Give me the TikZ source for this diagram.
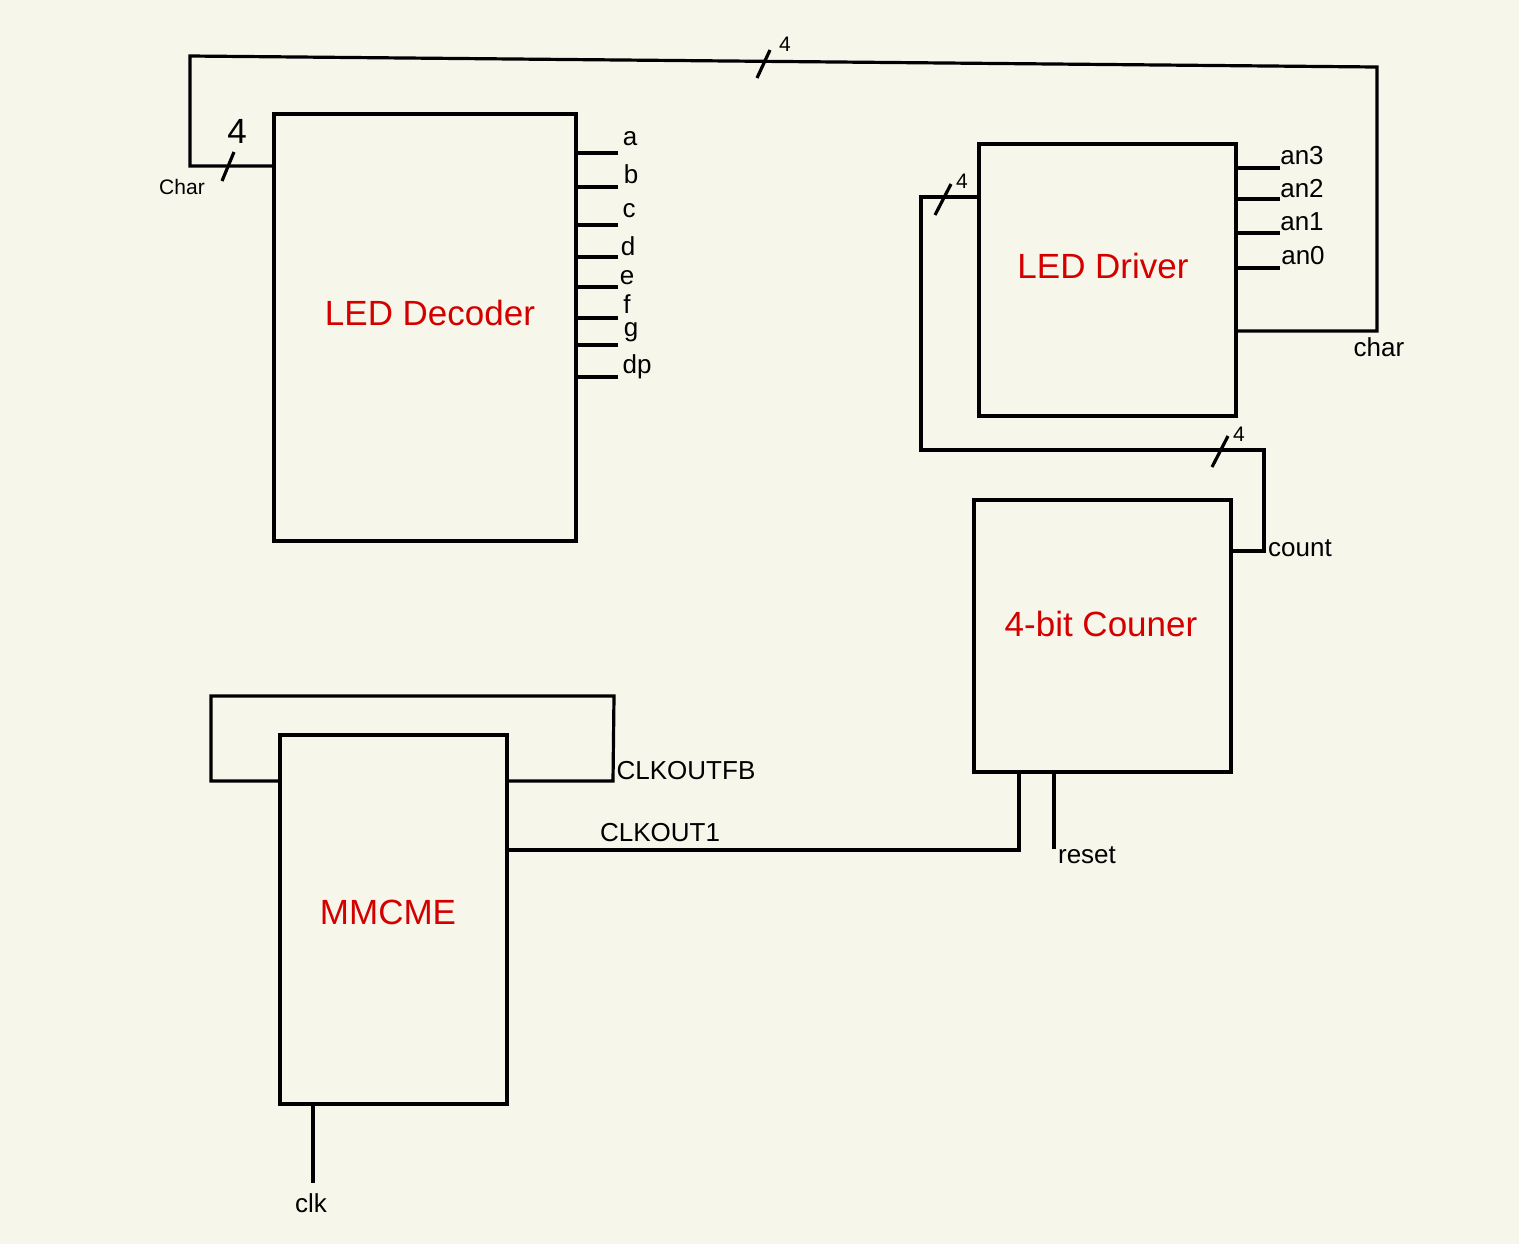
\documentclass[tikz,border=0pt]{standalone}
\usepackage{fontspec}
\setmainfont{Liberation Sans}
\usetikzlibrary{fit}
\definecolor{bg}{RGB}{247,246,234}
\definecolor{tred}{RGB}{212,0,0}
\begin{document}
\begin{tikzpicture}[x=0.5pt,y=-0.5pt,
 wire/.style={line width=1.6pt},
 blk/.style={draw,line width=1.6pt,inner sep=0pt},
 title/.style={text=tred,font=\fontsize{17.5}{20}\selectfont,inner sep=0pt},
 pin/.style={font=\fontsize{13}{15}\selectfont,inner sep=0pt},
 small/.style={font=\fontsize{10.5}{12}\selectfont,inner sep=0pt},
 big/.style={font=\fontsize{17.5}{20}\selectfont,inner sep=0pt}]
\fill[bg] (0,0) rectangle (1519,1244);
\useasboundingbox (0,0) rectangle (1519,1244);

% blocks
\node[blk,fit={(274,114)(576,541)}] (dec) {};
\node[blk,fit={(979,144)(1236,416)}] (drv) {};
\node[blk,fit={(974,500)(1231,772)}] (cnt) {};
\node[blk,fit={(280,735)(507,1104)}] (mmc) {};

\node[title] (tdec) at (430,313) {LED Decoder};
\node[title] (tdrv) at (1103,266) {LED Driver};
\node[title] (tcnt) at (1101,624) {4-bit Couner};
\node[title] (tmmc) at (388,912) {MMCME};

% decoder outputs
\foreach \n/\y/\lx/\ly in {a/153/630/139, b/187/631/174, c/225/629/211, d/257/628/246,
  e/287/627/278, f/318/627/304, g/345/631/332, dp/377/637/367} {
  \coordinate (p\n) at (618,\y);
  \draw[wire] (p\n -| dec.east) -- (p\n);
  \node[pin] (l\n) at (\lx,\ly) {\n};
}

% driver outputs
\foreach \n/\y/\lx/\ly in {an3/168/1302/156, an2/199/1302/189, an1/233/1302/222, an0/268/1303/256} {
  \coordinate (q\n) at (1280,\y);
  \draw[wire] (q\n -| drv.east) -- (q\n);
  \node[pin] (l\n) at (\lx,\ly) {\n};
}

% char bus
\coordinate (c1) at (1377,331);
\coordinate (c2) at (1377,67);
\coordinate (c3) at (190,56);
\coordinate (c4) at (190,166);
\draw[wire] (drv.east |- c1) -- (c1) -- (c2) -- (c3) -- (c4) -- (c4 -| dec.west);
\draw[wire] (222,181) -- (234,152);
\draw[wire] (757,78) -- (770,50);
\node[pin] (lchar) at (1379,347) {char};
\node[small] (lChar) at (182,187) {Char};
\node[big] (n4a) at (237,131) {4};
\node[small] (n4b) at (785,44) {4};

% count bus
\coordinate (k1) at (1264,551);
\coordinate (k2) at (1264,450);
\coordinate (k3) at (921,450);
\coordinate (k4) at (921,197);
\draw[wire] (cnt.east |- k1) -- (k1) -- (k2) -- (k3) -- (k4) -- (k4 -| drv.west);
\draw[wire] (935,215) -- (951,184);
\draw[wire] (1212,467) -- (1228,436);
\node[small] (n4c) at (962,181) {4};
\node[small] (n4d) at (1239,434) {4};
\node[pin] (lcount) at (1300,548) {count};

% MMCME feedback
\coordinate (f1) at (613,781);
\coordinate (f2) at (614,696);
\coordinate (f3) at (211,696);
\coordinate (f4) at (211,781);
\draw[wire] (mmc.east |- f1) -- (f1) -- (f2) -- (f3) -- (f4) -- (f4 -| mmc.west);
\node[pin] (lfb) at (686,771) {CLKOUTFB};

% CLKOUT1
\coordinate (o1) at (1019,850);
\draw[wire] (mmc.east |- o1) -- (o1) -- (o1 |- cnt.south);
\node[pin] (lco1) at (660,833) {CLKOUT1};

% reset
\coordinate (r1) at (1054,849);
\draw[wire] (r1 |- cnt.south) -- (r1);
\node[pin] (lreset) at (1087,855) {reset};

% clk
\coordinate (ck) at (313,1183);
\draw[wire] (ck |- mmc.south) -- (ck);
\node[pin] (lclk) at (311,1203) {clk};
\end{tikzpicture}
\end{document}
